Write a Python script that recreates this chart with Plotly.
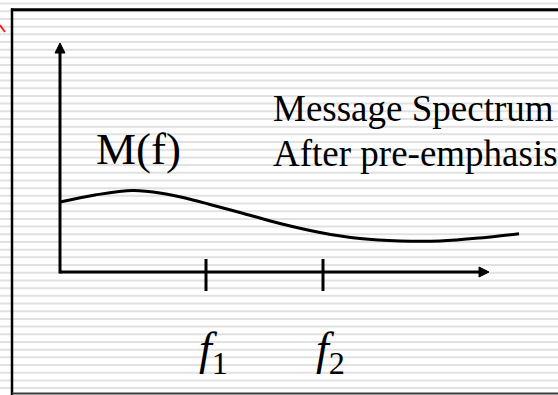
import plotly.graph_objects as go

# Spectrum curve: frequency measured from the vertical axis, magnitude above the frequency axis
freq = [0, 35, 73, 103, 127, 150, 180, 220, 260, 300, 340, 380, 420, 459]
magnitude = [70, 77, 81.5, 78.5, 73.5, 67.5, 59.5, 48.5, 39.5, 33.5, 31, 31, 34, 38.3]

# Marked frequencies on the horizontal axis
tick_freqs = [146, 263]
tick_labels = ["<i>f</i><sub>1</sub>", "<i>f</i><sub>2</sub>"]

spectrum_label = "M(f)"
caption_lines = ["Message Spectrum", "After pre-emphasis"]

# Canvas and origin of the sketched axes, in page pixels
W, H = 558, 395
OX, OY = 60, 272


def dx(px):
    return px - OX


def dy(py):
    return OY - py


SERIF = "Liberation Serif, Times New Roman, serif"
INK = "black"

fig = go.Figure()

# Horizontal axis with arrow
x_tip, head = 429, 10
fig.add_trace(go.Scatter(x=[0, x_tip - head + 1], y=[0, 0], mode="lines",
                         line=dict(color=INK, width=3), hoverinfo="skip"))
fig.add_trace(go.Scatter(x=[x_tip - head, x_tip, x_tip - head, x_tip - head],
                         y=[5, 0, -5, 5], mode="lines", fill="toself",
                         fillcolor=INK, line=dict(color=INK, width=1), hoverinfo="skip"))

# Vertical axis with arrow
y_tip = 229
fig.add_trace(go.Scatter(x=[0, 0], y=[-1.5, y_tip - head + 1], mode="lines",
                         line=dict(color=INK, width=3), hoverinfo="skip"))
fig.add_trace(go.Scatter(x=[-5, 0, 5, -5], y=[y_tip - head, y_tip, y_tip - head, y_tip - head],
                         mode="lines", fill="toself", fillcolor=INK,
                         line=dict(color=INK, width=1), hoverinfo="skip"))

# Frequency tick marks
for f in tick_freqs:
    fig.add_trace(go.Scatter(x=[f, f], y=[13, -19], mode="lines",
                             line=dict(color=INK, width=3), hoverinfo="skip"))

# Spectrum curve
fig.add_trace(go.Scatter(x=freq, y=magnitude, mode="lines",
                         line=dict(color=INK, width=3, shape="spline", smoothing=1.0),
                         hoverinfo="skip"))

shapes = []
# Ruled-paper background
y = 3.6
while y < H:
    shapes.append(dict(type="line", layer="below", xref="x", yref="y",
                       x0=dx(0), x1=dx(W), y0=dy(y), y1=dy(y),
                       line=dict(color="#e1e1e1", width=2)))
    y += 7.69

# Slide frame
shapes.append(dict(type="line", xref="x", yref="y", x0=dx(12), x1=dx(12),
                   y0=dy(8.5), y1=dy(H), line=dict(color=INK, width=2.5)))
shapes.append(dict(type="line", xref="x", yref="y", x0=dx(11), x1=dx(W),
                   y0=dy(9.8), y1=dy(9.8), line=dict(color=INK, width=3)))
shapes.append(dict(type="line", xref="x", yref="y", x0=dx(12), x1=dx(W),
                   y0=dy(393.5), y1=dy(393.5), line=dict(color="#3c3c3c", width=2)))
# Small red stroke at the corner
shapes.append(dict(type="line", xref="x", yref="y", x0=dx(0), x1=dx(5),
                   y0=dy(25), y1=dy(32), line=dict(color="#ff2020", width=2)))

annotations = [
    dict(x=dx(94), y=dy(149), xref="x", yref="y", text=spectrum_label, showarrow=False,
         xanchor="left", yanchor="middle", font=dict(family=SERIF, size=45, color=INK)),
    dict(x=dx(271), y=dy(108), xref="x", yref="y", text=caption_lines[0], showarrow=False,
         xanchor="left", yanchor="middle", font=dict(family=SERIF, size=37, color=INK)),
    dict(x=dx(271), y=dy(153), xref="x", yref="y", text=caption_lines[1], showarrow=False,
         xanchor="left", yanchor="middle", font=dict(family=SERIF, size=37, color=INK)),
]
for f, lab in zip(tick_freqs, tick_labels):
    annotations.append(dict(x=f + 7, y=dy(352), xref="x", yref="y", text=lab,
                            showarrow=False, xanchor="center", yanchor="middle",
                            font=dict(family=SERIF, size=46, color=INK)))

fig.update_layout(
    width=W, height=H, autosize=False,
    margin=dict(l=0, r=0, t=0, b=0, pad=0),
    paper_bgcolor="white", plot_bgcolor="white",
    showlegend=False,
    xaxis=dict(range=[dx(0), dx(W)], visible=False, fixedrange=True),
    yaxis=dict(range=[dy(H), dy(0)], visible=False, fixedrange=True),
    shapes=shapes, annotations=annotations,
)

fig.write_html("out.html", config={"displayModeBar": False})
